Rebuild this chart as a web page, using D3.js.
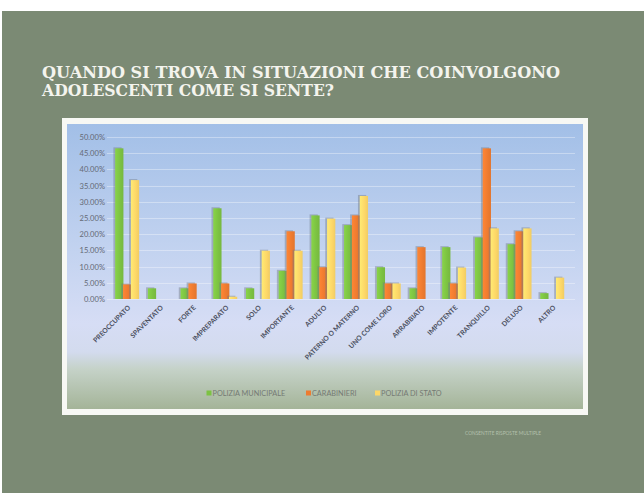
<!DOCTYPE html>
<html>
<head>
<meta charset="utf-8">
<script src="https://cdn.jsdelivr.net/npm/d3@7"></script>
<style>
  html, body { margin: 0; padding: 0; background: #ffffff; }
  svg { display: block; }
</style>
</head>
<body>
<svg id="chart" width="644" height="493"></svg>
<script>
// Feelings reported when dealing with adolescents, by police corps
const categories = [
  "PREOCCUPATO", "SPAVENTATO", "FORTE", "IMPREPARATO", "SOLO", "IMPORTANTE",
  "ADULTO", "PATERNO O MATERNO", "UNO COME LORO", "ARRABBIATO", "IMPOTENTE",
  "TRANQUILLO", "DELUSO", "ALTRO"
];
const seriesNames = ["POLIZIA MUNICIPALE", "CARABINIERI", "POLIZIA DI STATO"];
const poliziaMunicipale = [0.465, 0.033, 0.033, 0.28, 0.033, 0.087, 0.258, 0.228, 0.098, 0.033, 0.16, 0.19, 0.169, 0.018];
const carabinieri       = [0.045, 0, 0.048, 0.048, 0, 0.209, 0.098, 0.258, 0.048, 0.16, 0.048, 0.465, 0.209, 0];
const poliziaDiStato    = [0.367, 0, 0, 0.007, 0.149, 0.149, 0.248, 0.318, 0.048, 0, 0.097, 0.218, 0.218, 0.066];
const yTicks = [0, 0.05, 0.10, 0.15, 0.20, 0.25, 0.30, 0.35, 0.40, 0.45, 0.50];
const titleLines = ["QUANDO SI TROVA IN SITUAZIONI CHE COINVOLGONO", "ADOLESCENTI COME SI SENTE?"];
const footnote = "CONSENTITE RISPOSTE MULTIPLE";

const seriesValues = [poliziaMunicipale, carabinieri, poliziaDiStato];
const seriesColors = ["#7cc242", "#ee7b30", "#fdd768"];

const svg = d3.select("#chart");
const defs = svg.append("defs");

// slide background
svg.append("rect").attr("x", 0).attr("y", 0).attr("width", 644).attr("height", 493).attr("fill", "#ffffff");
svg.append("rect").attr("x", 2).attr("y", 11).attr("width", 642).attr("height", 482).attr("fill", "#7b8a74");

// title
const title = svg.append("g")
  .attr("font-family", "'DejaVu Serif', 'Liberation Serif', serif")
  .attr("font-weight", "bold")
  .attr("font-size", 16.5)
  .attr("fill", "#f4f4ee");
title.append("text").attr("x", 42).attr("y", 78).attr("textLength", 518).attr("lengthAdjust", "spacingAndGlyphs").text(titleLines[0]);
title.append("text").attr("x", 42).attr("y", 95.5).attr("textLength", 292).attr("lengthAdjust", "spacingAndGlyphs").text(titleLines[1]);

// chart frame
svg.append("rect").attr("x", 62).attr("y", 118).attr("width", 526).attr("height", 297).attr("fill", "#f7f8f4");

const bgGrad = defs.append("linearGradient").attr("id", "plotBg").attr("x1", 0).attr("y1", 0).attr("x2", 0).attr("y2", 1);
[["0%", "#a2bfe7"], ["45%", "#c3d3f0"], ["70%", "#d6ddf5"], ["80%", "#d3dbee"], ["86%", "#c5d2c8"], ["100%", "#a4b498"]]
  .forEach(([o, c]) => bgGrad.append("stop").attr("offset", o).attr("stop-color", c));
svg.append("rect").attr("x", 67).attr("y", 124).attr("width", 516).attr("height", 285).attr("fill", "url(#plotBg)");

// scales
const y = d3.scaleLinear().domain([0, 0.5]).range([299, 137]);
const x = d3.scaleBand().domain(categories).range([110.6, 568.4]);
const xs = d3.scaleBand().domain(seriesNames).range([x.bandwidth() * 0.14, x.bandwidth() * 0.86]);

// gridlines
svg.append("g").selectAll("line").data(yTicks).join("line")
  .attr("x1", 107).attr("x2", 575)
  .attr("y1", d => Math.round(y(d)) + 0.5).attr("y2", d => Math.round(y(d)) + 0.5)
  .attr("stroke", "#ffffff").attr("stroke-opacity", 0.35).attr("stroke-width", 1);

// y axis labels
const yAxis = d3.axisLeft(y).tickValues(yTicks).tickFormat(d3.format(".2%")).tickSize(0).tickPadding(0);
const yg = svg.append("g").attr("transform", "translate(105,0)").call(yAxis);
yg.select(".domain").remove();
yg.selectAll("text")
  .attr("font-family", "Lato, 'Open Sans', sans-serif")
  .attr("font-size", 7.6)
  .attr("fill", "#656a76");

// bars
const groups = svg.append("g").selectAll("g").data(categories).join("g")
  .attr("transform", d => `translate(${x(d)},0)`);

seriesNames.forEach((s, si) => {
  const grad = defs.append("linearGradient").attr("id", "barGrad" + si).attr("x1", 0).attr("x2", 1).attr("y1", 0).attr("y2", 0);
  grad.append("stop").attr("offset", "0%").attr("stop-color", d3.color(seriesColors[si]).brighter(0.25));
  grad.append("stop").attr("offset", "60%").attr("stop-color", seriesColors[si]);
  grad.append("stop").attr("offset", "100%").attr("stop-color", d3.color(seriesColors[si]).darker(0.15));
});

groups.each(function (cat, ci) {
  const g = d3.select(this);
  seriesNames.forEach((s, si) => {
    const v = seriesValues[si][ci];
    if (v <= 0) return;
    const bx = xs(s);
    const bw = xs.bandwidth() + 0.4;
    // soft shadow behind each bar
    g.append("rect")
      .attr("x", bx - 1.8).attr("y", y(v) - 1)
      .attr("width", bw).attr("height", y(0) - y(v) + 1)
      .attr("fill", "#707a88").attr("fill-opacity", 0.45);
    g.append("rect")
      .attr("x", bx).attr("y", y(v))
      .attr("width", bw).attr("height", y(0) - y(v))
      .attr("fill", `url(#barGrad${si})`);
  });
});

// x axis labels, rotated
svg.append("g").selectAll("text").data(categories).join("text")
  .attr("transform", d => `translate(${x(d) + x.bandwidth() / 2 + 4},${y(0) + 9}) rotate(-45)`)
  .attr("text-anchor", "end")
  .attr("font-family", "Lato, 'Open Sans', sans-serif")
  .attr("font-weight", "bold")
  .attr("font-size", 6.8)
  .attr("fill", "#4a4f5e")
  .text(d => d);

// legend
const legendX = [206.5, 306, 375];
const legend = svg.append("g").selectAll("g").data(seriesNames).join("g")
  .attr("transform", (d, i) => `translate(${legendX[i]},393)`);
legend.append("rect").attr("x", 0).attr("y", -2.5).attr("width", 5).attr("height", 5)
  .attr("fill", (d, i) => seriesColors[i]);
legend.append("text").attr("x", 6).attr("y", 2.6)
  .attr("font-family", "Lato, 'Open Sans', sans-serif")
  .attr("font-size", 7.3)
  .attr("fill", "#757a74")
  .text(d => d);

// footnote
svg.append("text").attr("x", 465).attr("y", 435)
  .attr("font-family", "Lato, 'Open Sans', sans-serif")
  .attr("font-size", 4.8)
  .attr("fill", "#b4c0ad")
  .text(footnote);
</script>
</body>
</html>
